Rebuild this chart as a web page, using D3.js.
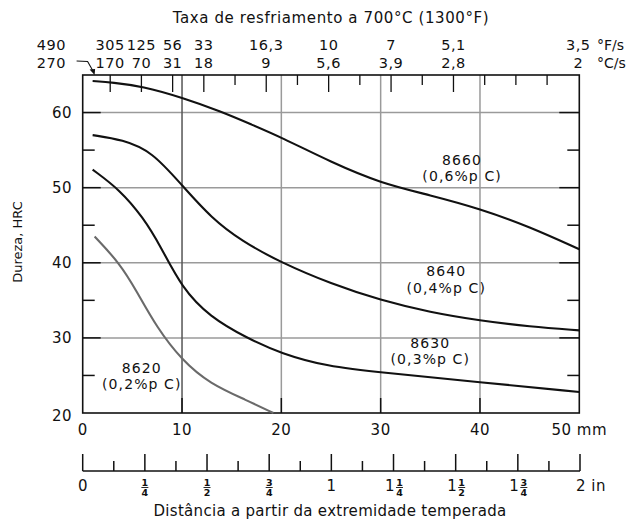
<!DOCTYPE html>
<html><head><meta charset="utf-8">
<script src="https://cdn.jsdelivr.net/npm/d3@7/dist/d3.min.js"></script>
<style>body{margin:0;background:#fff}text{font-family:"DejaVu Sans",sans-serif;fill:#111}</style>
</head><body><svg id="c" width="630" height="520"></svg>
<script>
// ---- data ----
const mm8660 = [1, 3, 6, 10, 14, 17, 20, 25, 30, 35, 40, 45, 50];
const hrc8660 = [64.2, 64.0, 63.5, 62.0, 60.1, 58.4, 56.7, 53.4, 50.6, 49.0, 47.2, 44.8, 41.8];
const mm8640 = [1, 4, 7, 10, 13, 16, 20, 25, 30, 35, 40, 45, 50];
const hrc8640 = [57.0, 56.4, 54.8, 50.3, 45.9, 42.9, 40.0, 37.2, 35.0, 33.4, 32.3, 31.5, 31.0];
const mm8630 = [1, 3.75, 6.1, 7.8, 10, 12.8, 16.5, 20, 24.6, 30, 40, 50];
const hrc8630 = [52.4, 49.7, 46.0, 42.3, 36.6, 32.8, 30.0, 27.9, 26.2, 25.4, 24.1, 22.8];
const mm8620 = [1.2, 3.75, 5.4, 7.45, 10, 12.8, 16.5, 19.2];
const hrc8620 = [43.5, 39.9, 36.3, 31.4, 27.0, 23.9, 21.7, 20.0];

const series = [
  {name: "8660", sub: "(0,6%p C)", mm: mm8660, hrc: hrc8660, color: "#111", lx: 38.2, ly: 53.0},
  {name: "8640", sub: "(0,4%p C)", mm: mm8640, hrc: hrc8640, color: "#111", lx: 36.6, ly: 38.2},
  {name: "8630", sub: "(0,3%p C)", mm: mm8630, hrc: hrc8630, color: "#111", lx: 35.0, ly: 28.7},
  {name: "8620", sub: "(0,2%p C)", mm: mm8620, hrc: hrc8620, color: "#6a6a6a", lx: 5.95, ly: 25.3}
];

const mmTicks = [0, 10, 20, 30, 40, 50];
const hrcMajor = [20, 30, 40, 50, 60];
const hrcMinor = [25, 35, 45, 55];
const rateIn = [0.125, 0.25, 0.375, 0.5, 0.75, 1, 1.25, 1.5, 2];
const rateF = ["305", "125", "56", "33", "16,3", "10", "7", "5,1", "3,5"];
const rateC = ["170", "70", "31", "18", "9", "5,6", "3,9", "2,8", "2"];
const firstRateF = "490", firstRateC = "270", firstRateIn = 0.0625;
const inchLabels = [
  {v: 0, w: "0", f: null}, {v: 0.25, w: "", f: ["1","4"]}, {v: 0.5, w: "", f: ["1","2"]},
  {v: 0.75, w: "", f: ["3","4"]}, {v: 1, w: "1", f: null}, {v: 1.25, w: "1", f: ["1","4"]},
  {v: 1.5, w: "1", f: ["1","2"]}, {v: 1.75, w: "1", f: ["3","4"]}, {v: 2, w: "2 in", f: null}
];

// ---- scales ----
const svg = d3.select("#c");
const x = d3.scaleLinear().domain([0, 50]).range([82.7, 579.3]);
const y = d3.scaleLinear().domain([20, 65]).range([413, 75]);
const xin = d3.scaleLinear().domain([0, 2]).range([82.7, 580]);
const xtop = d3.scaleLinear().domain([0, 2]).range([79, 578.3]);
const L = x(0), R = x(50), T = y(65), B = y(20);

// gridlines
const g = svg.append("g");
[30, 40, 50, 60].forEach(v => g.append("line").attr("x1", L).attr("x2", R).attr("y1", y(v)).attr("y2", y(v))
  .attr("stroke", "#9a9a9a").attr("stroke-width", 1.5));
[10, 20, 30, 40].forEach(v => g.append("line").attr("x1", x(v)).attr("x2", x(v)).attr("y1", T).attr("y2", B)
  .attr("stroke", v === 10 ? "#555" : "#9a9a9a").attr("stroke-width", 1.5));

// inner ticks on left / right / bottom
[30, 40, 50, 60].forEach(v => {
  g.append("line").attr("x1", L).attr("x2", L + 18).attr("y1", y(v)).attr("y2", y(v)).attr("stroke", "#111").attr("stroke-width", 1.5);
  g.append("line").attr("x1", R).attr("x2", R - 20).attr("y1", y(v)).attr("y2", y(v)).attr("stroke", "#111").attr("stroke-width", 1.5);
});
hrcMinor.forEach(v => {
  g.append("line").attr("x1", L).attr("x2", L + 12).attr("y1", y(v)).attr("y2", y(v)).attr("stroke", "#111").attr("stroke-width", 1.5);
  g.append("line").attr("x1", R).attr("x2", R - 12).attr("y1", y(v)).attr("y2", y(v)).attr("stroke", "#111").attr("stroke-width", 1.5);
});
[10, 20, 30, 40].forEach(v => g.append("line").attr("x1", x(v)).attr("x2", x(v)).attr("y1", B).attr("y2", B - 15)
  .attr("stroke", "#111").attr("stroke-width", 1.5));

// top ticks
d3.range(1, 16).forEach(k => {
  const v = k / 8;
  const long = rateIn.includes(v);
  g.append("line").attr("x1", xtop(v)).attr("x2", xtop(v)).attr("y1", T).attr("y2", T + (long ? 17 : 10))
    .attr("stroke", "#111").attr("stroke-width", 1.3);
});

// frame
g.append("rect").attr("x", L).attr("y", T).attr("width", R - L).attr("height", B - T)
  .attr("fill", "none").attr("stroke", "#111").attr("stroke-width", 1.6);

// curves
const line = d3.line().x(d => x(d[0])).y(d => y(d[1])).curve(d3.curveBasis);
series.forEach(s => {
  svg.append("path").datum(s.mm.map((m, i) => [m, s.hrc[i]])).attr("d", line)
    .attr("fill", "none").attr("stroke", s.color).attr("stroke-width", 2.1);
  svg.append("text").attr("x", x(s.lx)).attr("y", y(s.ly)).attr("text-anchor", "middle")
    .attr("font-size", 14).attr("letter-spacing", 1.1).text(s.name);
  svg.append("text").attr("x", x(s.lx)).attr("y", y(s.ly) + 16.3).attr("text-anchor", "middle")
    .attr("font-size", 14).attr("letter-spacing", 1.1).text(s.sub);
});

// y axis labels
hrcMajor.forEach(v => svg.append("text").attr("x", 72).attr("y", y(v) + (v === 20 ? 8 : 5.5))
  .attr("text-anchor", "end").attr("font-size", 15).attr("letter-spacing", 0.5).text(v));
svg.append("text").attr("transform", `translate(22,242) rotate(-90)`).attr("text-anchor", "middle")
  .attr("font-size", 13).text("Dureza, HRC");

// x mm labels
mmTicks.forEach(v => svg.append("text").attr("x", x(v)).attr("y", 435).attr("text-anchor", "middle")
  .attr("font-size", 15).attr("letter-spacing", 0.5).text(v === 50 ? "50 mm" : v));

// top labels
svg.append("text").attr("x", 331).attr("y", 23).attr("text-anchor", "middle").attr("font-size", 15).attr("letter-spacing", 0.6)
  .text("Taxa de resfriamento a 700°C (1300°F)");
rateIn.forEach((v, i) => {
  svg.append("text").attr("x", xtop(v)).attr("y", 50).attr("text-anchor", "middle").attr("font-size", 14.5).attr("letter-spacing", 0.5).text(rateF[i]);
  svg.append("text").attr("x", xtop(v)).attr("y", 68).attr("text-anchor", "middle").attr("font-size", 14.5).attr("letter-spacing", 0.5).text(rateC[i]);
});
svg.append("text").attr("x", 66).attr("y", 50).attr("text-anchor", "end").attr("font-size", 14.5).attr("letter-spacing", 0.5).text(firstRateF);
svg.append("text").attr("x", 66).attr("y", 68).attr("text-anchor", "end").attr("font-size", 14.5).attr("letter-spacing", 0.5).text(firstRateC);
svg.append("text").attr("x", 597).attr("y", 50).attr("font-size", 14).text("°F/s");
svg.append("text").attr("x", 597).attr("y", 68).attr("font-size", 14).text("°C/s");
// arrow
const ax = xtop(firstRateIn);
svg.append("path").attr("d", `M${ax - 18},61 L${ax - 7},61.5 L${ax - 1},72`).attr("fill", "none").attr("stroke", "#111").attr("stroke-width", 1.1);
svg.append("path").attr("d", `M${ax},75 L${ax - 5},69.5 L${ax + 0.5},69 Z`).attr("fill", "#111");

// inch ruler
const rb = 471;
svg.append("line").attr("x1", xin(0)).attr("x2", xin(2)).attr("y1", rb).attr("y2", rb).attr("stroke", "#111").attr("stroke-width", 1.6);
d3.range(0, 17).forEach(k => {
  const v = k / 8, major = k % 2 === 0;
  svg.append("line").attr("x1", xin(v)).attr("x2", xin(v)).attr("y1", rb).attr("y2", major ? 454 : 461)
    .attr("stroke", "#111").attr("stroke-width", 1.5);
});
inchLabels.forEach(d => {
  const cx = xin(d.v);
  if (!d.f) {
    if (d.w === "2 in") svg.append("text").attr("x", cx - 4).attr("y", 491).attr("font-size", 15).attr("letter-spacing", 0.5).text(d.w);
    else svg.append("text").attr("x", cx).attr("y", 491).attr("text-anchor", "middle").attr("font-size", 15).text(d.w);
    return;
  }
  let fx = cx;
  if (d.w) {
    svg.append("text").attr("x", cx + 1).attr("y", 491).attr("text-anchor", "end").attr("font-size", 15).text(d.w);
    fx = cx + 6;
  }
  svg.append("text").attr("x", fx).attr("y", 485.5).attr("text-anchor", "middle").attr("font-size", 9.5).attr("font-weight", "bold").text(d.f[0]);
  svg.append("line").attr("x1", fx - 3.5).attr("x2", fx + 3.5).attr("y1", 487.5).attr("y2", 487.5).attr("stroke", "#111").attr("stroke-width", 0.9);
  svg.append("text").attr("x", fx).attr("y", 496).attr("text-anchor", "middle").attr("font-size", 9.5).attr("font-weight", "bold").text(d.f[1]);
});
svg.append("text").attr("x", 330).attr("y", 515.5).attr("text-anchor", "middle").attr("font-size", 15).attr("letter-spacing", 0.3)
  .text("Distância a partir da extremidade temperada");
</script></body></html>
